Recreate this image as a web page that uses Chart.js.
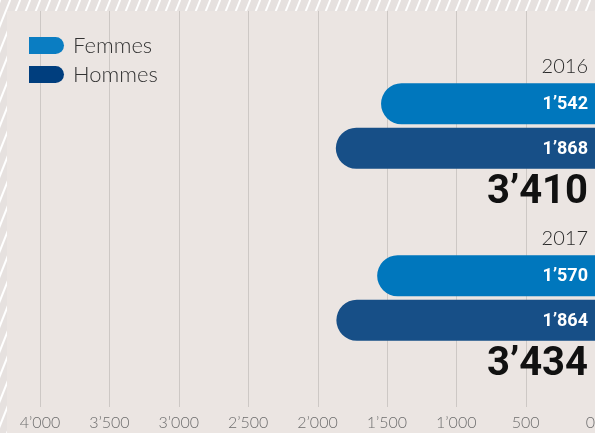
<!DOCTYPE html>
<html lang="fr">
<head>
<meta charset="utf-8">
<title>Femmes et hommes</title>
<script src="https://cdn.jsdelivr.net/npm/chart.js@4"></script>
<style>
  html, body { margin: 0; padding: 0; background: #e6e1df; overflow: hidden; }
  #cadre { width: 595px; height: 433px; }
</style>
</head>
<body>
<div id="cadre"><canvas id="graphique" width="595" height="433"></canvas></div>
<script>
// ------------ Données ------------ //

var annees = ['2016', '2017'];
var femmes = [1542, 1570];
var hommes = [1868, 1864];
var graduations = [0, 500, 1000, 1500, 2000, 2500, 3000, 3500, 4000];

var couleurFemmes = '#0077bd';
var couleurHommes = '#174f87';
var legendeCouleurs = ['#0a7dc2', '#003e7e'];

// séparateur de milliers suisse
function formater(n) {
    return String(n).replace(/\B(?=(\d{3})+(?!\d))/g, '\u2019');
}

// ------------ Fond hachuré, panneau, grille et graduations ------------ //

var fondPanneau = {
    id: 'fondPanneau',
    beforeDraw: function (chart) {
        var ctx = chart.ctx, w = chart.width, h = chart.height;
        ctx.save();
        ctx.fillStyle = '#e6e1df';
        ctx.fillRect(0, 0, w, h);
        ctx.strokeStyle = '#ffffff';
        ctx.lineWidth = 2;
        for (var x = -h; x < w + h; x += 10) {
            ctx.beginPath();
            ctx.moveTo(x, h);
            ctx.lineTo(x + h * 0.4, 0);
            ctx.stroke();
        }
        ctx.fillStyle = '#ebe5e2';
        ctx.fillRect(7, 11, w - 7, h - 11);

        var echelle = chart.scales.x;
        ctx.strokeStyle = '#cdc8c5';
        ctx.lineWidth = 1;
        echelle.ticks.forEach(function (t) {
            var px = Math.round(echelle.getPixelForValue(t.value)) + 0.5;
            ctx.beginPath();
            ctx.moveTo(px, 11);
            ctx.lineTo(px, 407);
            ctx.stroke();
        });

        ctx.font = '300 16px Lato';
        ctx.fillStyle = '#6e6e6e';
        ctx.textAlign = 'center';
        ctx.textBaseline = 'alphabetic';
        echelle.ticks.forEach(function (t) {
            var txt = formater(t.value);
            var px = echelle.getPixelForValue(t.value);
            var demi = ctx.measureText(txt).width / 2;
            px = Math.min(px, w - demi);
            ctx.fillText(txt, px, 428);
        });
        ctx.restore();
    }
};

// ------------ Étiquettes : valeurs, années, totaux, légende ------------ //

var etiquettes = {
    id: 'etiquettes',
    afterDatasetsDraw: function (chart) {
        var ctx = chart.ctx;
        var echelleY = chart.scales.y;
        ctx.save();
        ctx.textAlign = 'right';
        ctx.textBaseline = 'middle';

        // valeurs dans les barres
        ctx.font = 'bold 18px Roboto';
        ctx.fillStyle = '#ffffff';
        chart.data.datasets.forEach(function (ds, i) {
            chart.getDatasetMeta(i).data.forEach(function (barre, j) {
                ctx.fillText(formater(ds.data[j]), 588, barre.y + 1);
            });
        });

        chart.data.labels.forEach(function (annee, j) {
            var centre = echelleY.getPixelForValue(j);
            ctx.font = '300 20px Lato';
            ctx.fillStyle = '#2b2b2b';
            ctx.fillText(annee, 588, centre - 59);

            var total = 0;
            chart.data.datasets.forEach(function (ds) { total += ds.data[j]; });
            ctx.font = 'bold 40px Roboto';
            ctx.fillStyle = '#111111';
            ctx.fillText(formater(total), 588, centre + 67);
        });

        // légende
        ctx.textAlign = 'left';
        chart.data.datasets.forEach(function (ds, i) {
            var y = 37 + i * 29;
            ctx.fillStyle = legendeCouleurs[i];
            ctx.beginPath();
            ctx.roundRect(29, y, 35, 17, [0, 8.5, 8.5, 0]);
            ctx.fill();
            ctx.font = '300 22px Lato';
            ctx.fillStyle = '#333333';
            ctx.fillText(ds.label, 73, y + 9);
        });
        ctx.restore();
    }
};

// ------------ Configuration du graphique ------------ //

var ctxGraphique = document.getElementById('graphique').getContext('2d');
var graphique = new Chart(ctxGraphique, {
    type: 'bar',
    data: {
        labels: annees,
        datasets: [{
            label: 'Femmes',
            data: femmes,
            backgroundColor: couleurFemmes
        }, {
            label: 'Hommes',
            data: hommes,
            backgroundColor: couleurHommes
        }]
    },
    options: {
        indexAxis: 'y',
        responsive: false,
        animation: false,
        layout: {
            padding: { left: 40, right: -1, top: 40, bottom: 49 }
        },
        datasets: {
            bar: {
                categoryPercentage: 0.517,
                barPercentage: 0.92,
                borderRadius: 21,
                borderSkipped: 'start'
            }
        },
        scales: {
            x: {
                display: false,
                reverse: true,
                min: 0,
                max: 4000,
                afterBuildTicks: function (axe) {
                    axe.ticks = graduations.map(function (v) { return { value: v }; });
                }
            },
            y: {
                display: false
            }
        },
        plugins: {
            legend: { display: false },
            tooltip: { enabled: false }
        }
    },
    plugins: [fondPanneau, etiquettes]
});
</script>
</body>
</html>
